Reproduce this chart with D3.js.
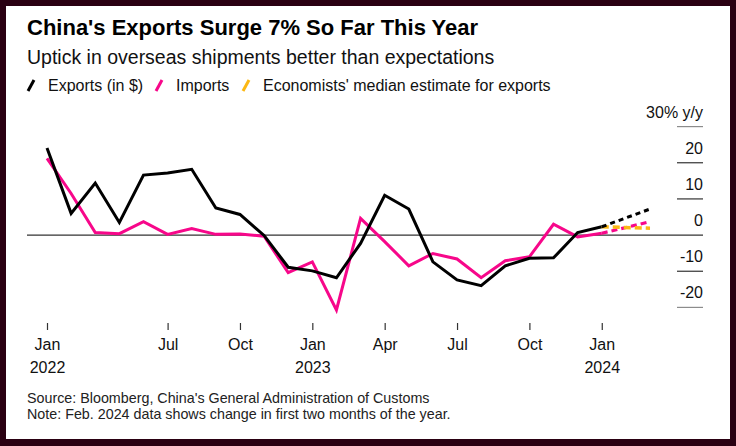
<!DOCTYPE html>
<html>
<head>
<meta charset="utf-8">
<script src="https://cdn.jsdelivr.net/npm/d3@7"></script>
<style>
  body { margin: 0; background: #fff; }
  text { font-family: "Liberation Sans", Arial, sans-serif; }
</style>
</head>
<body>
<div id="chart"></div>
<script>
// Chart data (y/y % change), one point per period, index based
var periods = ["Jan 2022", "Mar", "Apr", "May", "Jun", "Jul", "Aug", "Sep", "Oct", "Nov", "Dec",
  "Jan 2023", "Feb", "Mar", "Apr", "May", "Jun", "Jul", "Aug", "Sep", "Oct", "Nov", "Dec", "Jan 2024"];
var exportsYoY = [24.1, 6.0, 14.4, 3.5, 16.6, 17.2, 18.2, 7.5, 5.7, -0.1, -8.9,
  -9.9, -11.8, -2.3, 11.0, 7.2, -7.4, -12.4, -14.0, -8.5, -6.4, -6.3, 0.7, 2.3];
var importsYoY = [21.2, 11.5, 0.7, 0.4, 3.7, 0.2, 1.8, 0.2, 0.3, -0.3, -10.4,
  -7.4, -20.7, 4.6, -1.8, -8.5, -5.1, -6.6, -11.8, -7.1, -6.0, 3.0, -0.5, 0.5];

// Feb 2024 (first two months) values, plotted two slots after the last solid point
var feb2024Index = 25;
var exportsFeb2024 = 7.2;
var importsFeb2024 = 3.7;
var estimateFeb2024 = 1.9;

// Axis ticks
var xTickIndex = [0, 5, 8, 11, 14, 17, 20, 23];
var xTickMonth = ["Jan", "Jul", "Oct", "Jan", "Apr", "Jul", "Oct", "Jan"];
var xTickYear = ["2022", "", "", "2023", "", "", "", "2024"];
var yTicks = [30, 20, 10, 0, -10, -20];
var yTickLabels = ["30% y/y", "20", "10", "0", "-10", "-20"];

var svgWidth = 736;
var svgHeight = 446;

var svg = d3.select("#chart")
  .append("svg")
  .attr("width", svgWidth)
  .attr("height", svgHeight);

// frame
svg.append("rect")
  .attr("width", svgWidth)
  .attr("height", svgHeight)
  .attr("fill", "#2a0012");
svg.append("rect")
  .attr("x", 6)
  .attr("y", 6)
  .attr("width", 724)
  .attr("height", 433)
  .attr("fill", "#fff");

// Titles
svg.append("text")
  .attr("x", 27)
  .attr("y", 35)
  .attr("font-size", 22)
  .attr("font-weight", "bold")
  .attr("fill", "#000")
  .text("China's Exports Surge 7% So Far This Year");

svg.append("text")
  .attr("x", 27)
  .attr("y", 64)
  .attr("font-size", 19.5)
  .attr("fill", "#111")
  .text("Uptick in overseas shipments better than expectations");

// Legend
var legendItems = [
  { label: "Exports (in $)", color: "#000", x: 27 },
  { label: "Imports", color: "#f7078a", x: 155 },
  { label: "Economists' median estimate for exports", color: "#fcb813", x: 242 }
];
var legend = svg.selectAll(".legend")
  .data(legendItems)
  .enter()
  .append("g")
  .attr("transform", d => `translate(${d.x}, 0)`);
legend.append("line")
  .attr("x1", 1).attr("y1", 91)
  .attr("x2", 7).attr("y2", 80)
  .attr("stroke", d => d.color)
  .attr("stroke-width", 3);
legend.append("text")
  .attr("x", 21)
  .attr("y", 91)
  .attr("font-size", 16)
  .attr("fill", "#111")
  .text(d => d.label);

// Scales
var x = d3.scaleLinear()
  .domain([0, feb2024Index])
  .range([47, 650]);

var y = d3.scaleLinear()
  .domain([-20, 30])
  .range([307.4, 126.6]);

// Right side y gridlines + labels
var yAxis = svg.append("g");
yAxis.selectAll("line")
  .data(yTicks.filter(d => d !== 0))
  .enter()
  .append("line")
  .attr("x1", 677)
  .attr("x2", 703)
  .attr("y1", d => y(d))
  .attr("y2", d => y(d))
  .attr("stroke", d => (d === 30 || d === -20) ? "#8c8c8c" : "#333")
  .attr("stroke-width", 1.2);
yAxis.selectAll("text")
  .data(yTicks)
  .enter()
  .append("text")
  .attr("x", 703)
  .attr("y", d => y(d) - 9)
  .attr("text-anchor", "end")
  .attr("font-size", 16)
  .attr("fill", "#111")
  .text((d, i) => yTickLabels[i]);

// zero line
svg.append("line")
  .attr("x1", 27)
  .attr("x2", 703)
  .attr("y1", y(0))
  .attr("y2", y(0))
  .attr("stroke", "#333")
  .attr("stroke-width", 1.2);

// X axis
var xAxis = d3.axisBottom(x)
  .tickValues(xTickIndex)
  .tickSize(7)
  .tickPadding(9)
  .tickFormat((d, i) => xTickMonth[i]);

var xAxisGroup = svg.append("g")
  .attr("transform", "translate(0, 323)")
  .call(xAxis);
xAxisGroup.select(".domain").remove();
xAxisGroup.selectAll(".tick line").attr("stroke", "#333").attr("stroke-width", 1.2);
xAxisGroup.selectAll(".tick text")
  .attr("font-size", 16)
  .attr("fill", "#111")
  .attr("font-family", "Liberation Sans, Arial, sans-serif");
xAxisGroup.selectAll(".tick")
  .append("text")
  .attr("y", 50)
  .attr("text-anchor", "middle")
  .attr("font-size", 16)
  .attr("fill", "#111")
  .attr("font-family", "Liberation Sans, Arial, sans-serif")
  .text((d, i) => xTickYear[i]);

// Lines
var line = d3.line()
  .x(d => x(d.i))
  .y(d => y(d.v));

var exportsPts = exportsYoY.map((v, i) => ({ i: i, v: v }));
var importsPts = importsYoY.map((v, i) => ({ i: i, v: v }));
var last = periods.length - 1;

var importsDash = [{ i: last, v: importsYoY[last] }, { i: feb2024Index, v: importsFeb2024 }];
var exportsDash = [{ i: last, v: exportsYoY[last] }, { i: feb2024Index, v: exportsFeb2024 }];
var estimateDash = [{ i: last, v: exportsYoY[last] }, { i: feb2024Index, v: estimateFeb2024 }];

svg.append("path")
  .datum(importsPts)
  .attr("d", line)
  .attr("fill", "none")
  .attr("stroke", "#f7078a")
  .attr("stroke-width", 3)
  .attr("stroke-linejoin", "miter");

svg.append("path")
  .datum(exportsPts)
  .attr("d", line)
  .attr("fill", "none")
  .attr("stroke", "#000")
  .attr("stroke-width", 3)
  .attr("stroke-linejoin", "miter");

svg.append("path")
  .datum(importsDash)
  .attr("d", line)
  .attr("fill", "none")
  .attr("stroke", "#f7078a")
  .attr("stroke-width", 3.2)
  .attr("stroke-dasharray", "6,4");

svg.append("path")
  .datum(estimateDash)
  .attr("d", line)
  .attr("fill", "none")
  .attr("stroke", "#fcb813")
  .attr("stroke-width", 3.5)
  .attr("stroke-dasharray", "7,4");

svg.append("path")
  .datum(exportsDash)
  .attr("d", line)
  .attr("fill", "none")
  .attr("stroke", "#000")
  .attr("stroke-width", 3)
  .attr("stroke-dasharray", "5,4");

// Footer
svg.append("text")
  .attr("x", 27)
  .attr("y", 403)
  .attr("font-size", 14.3)
  .attr("fill", "#222")
  .text("Source: Bloomberg, China's General Administration of Customs");
svg.append("text")
  .attr("x", 27)
  .attr("y", 419)
  .attr("font-size", 14.3)
  .attr("fill", "#222")
  .text("Note: Feb. 2024 data shows change in first two months of the year.");
</script>
</body>
</html>
